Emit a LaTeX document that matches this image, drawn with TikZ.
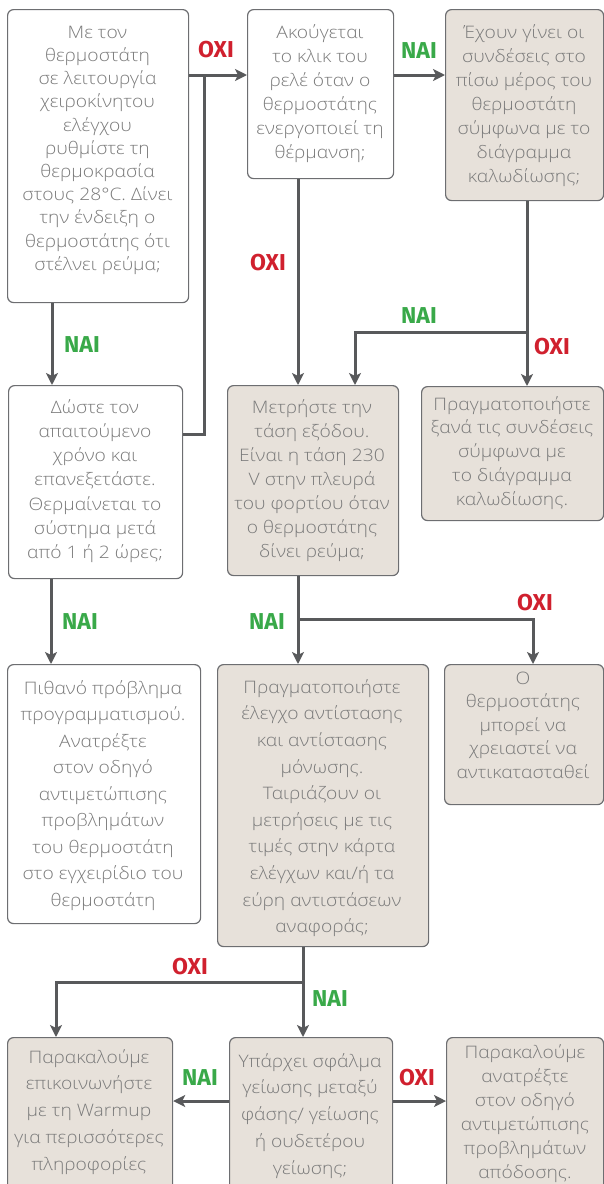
\documentclass[tikz,border=0pt]{standalone}
\usepackage{fontspec}
\setmainfont{Open Sans}[UprightFont=* Light, BoldFont=* Bold, FakeStretch=1.12]
\newfontfamily\labelfont{Fira Sans}[UprightFont=* Bold]
\usetikzlibrary{arrows.meta}
\definecolor{textcol}{HTML}{7A7A7A}
\definecolor{bordercol}{HTML}{6D6E71}
\definecolor{beige}{HTML}{E7E1DA}
\definecolor{conncol}{HTML}{58595B}
\definecolor{naicol}{HTML}{39A949}
\definecolor{oxicol}{HTML}{D0202E}
\tikzset{
  boxbase/.style={draw=bordercol, line width=1.2pt, rounded corners=6pt, inner sep=0pt, anchor=north west},
  wbox/.style={boxbase, fill=white},
  bbox/.style={boxbase, fill=beige},
  txt/.style={anchor=north, inner sep=0pt, align=center, text=textcol, font=\fontsize{17.2}{#1}\selectfont},
  conn/.style={draw=conncol, line width=3pt},
  arr/.style={conn, -{Stealth[length=12pt, width=12pt, inset=3pt]}},
  nai/.style={inner sep=0pt, text=naicol, font=\labelfont\fontsize{23}{23}\selectfont},
  oxi/.style={inner sep=0pt, text=oxicol, font=\labelfont\fontsize{23}{23}\selectfont},
}
\newcommand{\fr}{\rule{0pt}{17pt}}
\begin{document}
\begin{tikzpicture}[x=1pt, y=-1pt]
\path[use as bounding box] (0,0) rectangle (604,1184);
\clip (0,0) rectangle (604,1184);
% boxes
\node[wbox, minimum width=181pt, minimum height=293pt] (A) at (7,9) {};
\node[wbox, minimum width=146pt, minimum height=169pt] (B) at (247,9) {};
\node[bbox, minimum width=158pt, minimum height=191pt] (C) at (445,9) {};
\node[wbox, minimum width=174pt, minimum height=193pt] (D) at (8,385) {};
\node[bbox, minimum width=171pt, minimum height=190pt] (E) at (227,385) {};
\node[bbox, minimum width=182pt, minimum height=134pt] (F) at (421,386) {};
\node[wbox, minimum width=193pt, minimum height=259pt] (G) at (7,664) {};
\node[bbox, minimum width=211pt, minimum height=282pt] (H) at (217,664) {};
\node[bbox, minimum width=159pt, minimum height=140pt] (I) at (444,664) {};
\node[bbox, minimum width=165pt, minimum height=170pt] (J) at (7,1037) {};
\node[bbox, minimum width=163pt, minimum height=170pt] (K) at (229,1037) {};
\node[bbox, minimum width=157pt, minimum height=170pt] (L) at (446,1037) {};
% texts
\node[txt=23.2] (tA) at (97.5,21) {\fr Με τον\\θερμοστάτη\\σε λειτουργία\\χειροκίνητου\\ελέγχου\\ρυθμίστε τη\\θερμοκρασία\\στους 28°C. Δίνει\\την ένδειξη ο\\θερμοστάτης ότι\\στέλνει ρεύμα;};
\node[txt=24] (tB) at (320,21) {\fr Ακούγεται\\το κλικ του\\ρελέ όταν ο\\θερμοστάτης\\ενεργοποιεί τη\\θέρμανση;};
\node[txt=24] (tC) at (524,21) {\fr Έχουν γίνει οι\\συνδέσεις στο\\πίσω μέρος του\\θερμοστάτη\\σύμφωνα με το\\διάγραμμα\\καλωδίωσης;};
\node[txt=24.2] (tD) at (95,396) {\fr Δώστε τον\\απαιτούμενο\\χρόνο και\\επανεξετάστε.\\Θερμαίνεται το\\σύστημα μετά\\από 1 ή 2 ώρες;};
\node[txt=24] (tE) at (312,396) {\fr Μετρήστε την\\τάση εξόδου.\\Είναι η τάση 230\\V στην πλευρά\\του φορτίου όταν\\ο θερμοστάτης\\δίνει ρεύμα;};
\node[txt=23.7] (tF) at (512,393) {\fr Πραγματοποιήστε\\ξανά τις συνδέσεις\\σύμφωνα με\\το διάγραμμα\\καλωδίωσης.};
\node[txt=26.5] (tG) at (103,677) {\fr Πιθανό πρόβλημα\\προγραμματισμού.\\Ανατρέξτε\\στον οδηγό\\αντιμετώπισης\\προβλημάτων\\του θερμοστάτη\\στο εγχειρίδιο του\\θερμοστάτη};
\node[txt=26.6] (tH) at (322,676) {\fr Πραγματοποιήστε\\έλεγχο αντίστασης\\και αντίστασης\\μόνωσης.\\Ταιριάζουν οι\\μετρήσεις με τις\\τιμές στην κάρτα\\ελέγχων και/ή τα\\εύρη αντιστάσεων\\αναφοράς;};
\node[txt=23.5] (tI) at (523,667) {\fr Ο\\θερμοστάτης\\μπορεί να\\χρειαστεί να\\αντικατασταθεί};
\node[txt=26.7] (tJ) at (89,1046) {\fr Παρακαλούμε\\επικοινωνήστε\\με τη Warmup\\για περισσότερες\\πληροφορίες};
\node[txt=26.7] (tK) at (310,1050) {\fr Υπάρχει σφάλμα\\γείωσης μεταξύ\\φάσης/ γείωσης\\ή ουδετέρου\\γείωσης;};
\node[txt=24] (tL) at (525,1041) {\fr Παρακαλούμε\\ανατρέξτε\\στον οδηγό\\αντιμετώπισης\\προβλημάτων\\απόδοσης.};
% junction coordinates
\coordinate (ab) at (204,75);
\coordinate (dj) at (204,434);
\coordinate (xAD) at (52,0);
\coordinate (xBE) at (298,0);
\coordinate (cs) at (527,332);
\coordinate (xCE) at (355,0);
\coordinate (xDG) at (51,0);
\coordinate (es) at (298,619);
\coordinate (xEI) at (533,0);
\coordinate (hs) at (303,982);
\coordinate (xHJ) at (56,0);
\coordinate (kj) at (0,1101);
% connectors
\draw[arr] (A.east |- ab) -- (B.west |- ab);
\draw[conn] (D.east |- dj) -- (dj) -- (ab);
\draw[arr] (A.south -| xAD) -- (D.north -| xAD);
\draw[arr] (B.south -| xBE) -- (E.north -| xBE);
\draw[arr] (B.east |- ab) -- (C.west |- ab);
\draw[conn] (C.south -| cs) -- (cs);
\draw[arr] (cs) -| (E.north -| xCE);
\draw[arr] (cs) -- (F.north -| cs);
\draw[arr] (D.south -| xDG) -- (G.north -| xDG);
\draw[conn] (E.south -| es) -- (es);
\draw[arr] (es) -- (H.north -| es);
\draw[arr] (es) -| (I.north -| xEI);
\draw[conn] (H.south -| hs) -- (hs);
\draw[arr] (hs) -- (K.north -| hs);
\draw[arr] (hs) -| (J.north -| xHJ);
\draw[arr] (K.west |- kj) -- (J.east |- kj);
\draw[arr] (K.east |- kj) -- (L.west |- kj);
% labels
\node[oxi] (l1) at (216,50) {OXI};
\node[nai] (l2) at (419,51) {NAI};
\node[nai] (l3) at (82,345) {NAI};
\node[oxi] (l4) at (268,263) {OXI};
\node[nai] (l5) at (419,316) {NAI};
\node[oxi] (l6) at (552,347) {OXI};
\node[nai] (l7) at (80,622) {NAI};
\node[nai] (l8) at (267,622) {NAI};
\node[oxi] (l9) at (535,603) {OXI};
\node[oxi] (l10) at (190,967) {OXI};
\node[nai] (l11) at (330,999) {NAI};
\node[nai] (l12) at (200,1078) {NAI};
\node[oxi] (l13) at (417,1078) {OXI};
\end{tikzpicture}
\end{document}
